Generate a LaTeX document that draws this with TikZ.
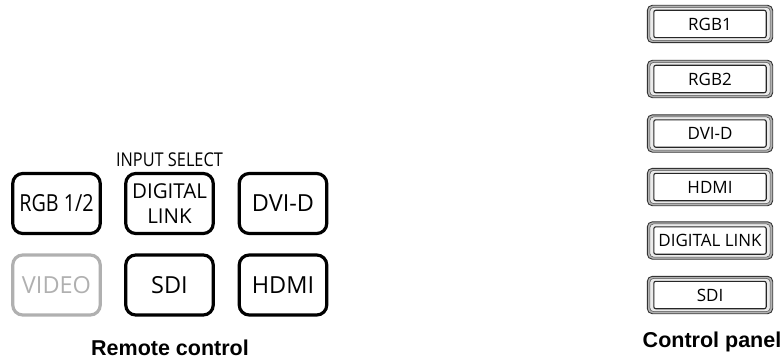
\documentclass[tikz,border=0pt]{standalone}
\usepackage{fontspec}
\setmainfont{Open Sans}
\newfontfamily\labelfont{Liberation Sans}
\usetikzlibrary{positioning}
\definecolor{vidgray}{RGB}{176,176,176}
\tikzset{
  rbtn/.style={draw=black, line width=3.2pt, rounded corners=10pt, minimum width=87.5pt, minimum height=60pt, inner sep=0pt, align=center, font=\fontsize{23.5}{25}\selectfont},
  pbtn/.style={minimum width=126pt, minimum height=38pt, inner sep=0pt, font=\fontsize{17}{18}\selectfont},
  caption/.style={font=\labelfont\bfseries\fontsize{21.5}{23}\selectfont, inner sep=0pt},
}
\newcommand{\panelframe}[1]{%
  \draw[draw=black!80, line width=0.9pt, fill=black!30, rounded corners=5pt] ([shift={(0.5pt,-0.5pt)}]#1.north west) rectangle ([shift={(-0.5pt,0.5pt)}]#1.south east);
  \draw[draw=black!70, line width=0.5pt, fill=black!8, rounded corners=4pt] ([shift={(3pt,-2.5pt)}]#1.north west) rectangle ([shift={(-3pt,2.5pt)}]#1.south east);
  \draw[draw=black!85, line width=1.1pt, fill=white, rounded corners=2pt] ([shift={(7pt,-5.5pt)}]#1.north west) rectangle ([shift={(-7pt,5.5pt)}]#1.south east);
}
\begin{document}
\begin{tikzpicture}[x=1pt,y=-1pt]
\useasboundingbox (0,0) rectangle (782,361);
% remote control
\node[font=\fontsize{19}{20}\selectfont, inner sep=0pt, xscale=0.86] (insel) at (169.5,160) {INPUT SELECT};
\node[rbtn] (rgb12) at (56.5,203.5) {\scalebox{0.84}[1]{RGB 1/2}};
\node[rbtn, font=\fontsize{20.5}{24.5}\selectfont] (dl) at (169.5,203.5) {DIGITAL\\LINK};
\node[rbtn] (dvid) at (283,203.5) {DVI-D};
\node[rbtn, draw=vidgray, text=vidgray] (video) at (56.5,285) {VIDEO};
\node[rbtn] (sdi) at (169.5,285) {SDI};
\node[rbtn] (hdmi) at (283,285) {HDMI};
\node[caption] (remote) at (170,348) {Remote control};
% control panel
\foreach \n/\y/\t in {p1/24/RGB1, p2/79/RGB2, p3/133.5/DVI-D, p4/187/HDMI, p5/240.5/DIGITAL LINK, p6/295/SDI}{
  \node[pbtn] (\n) at (710,\y) {};
  \panelframe{\n}
  \node[pbtn] at (\n) {\t};
}
\node[caption] (panel) at (712,342) {Control panel};
\end{tikzpicture}
\end{document}
